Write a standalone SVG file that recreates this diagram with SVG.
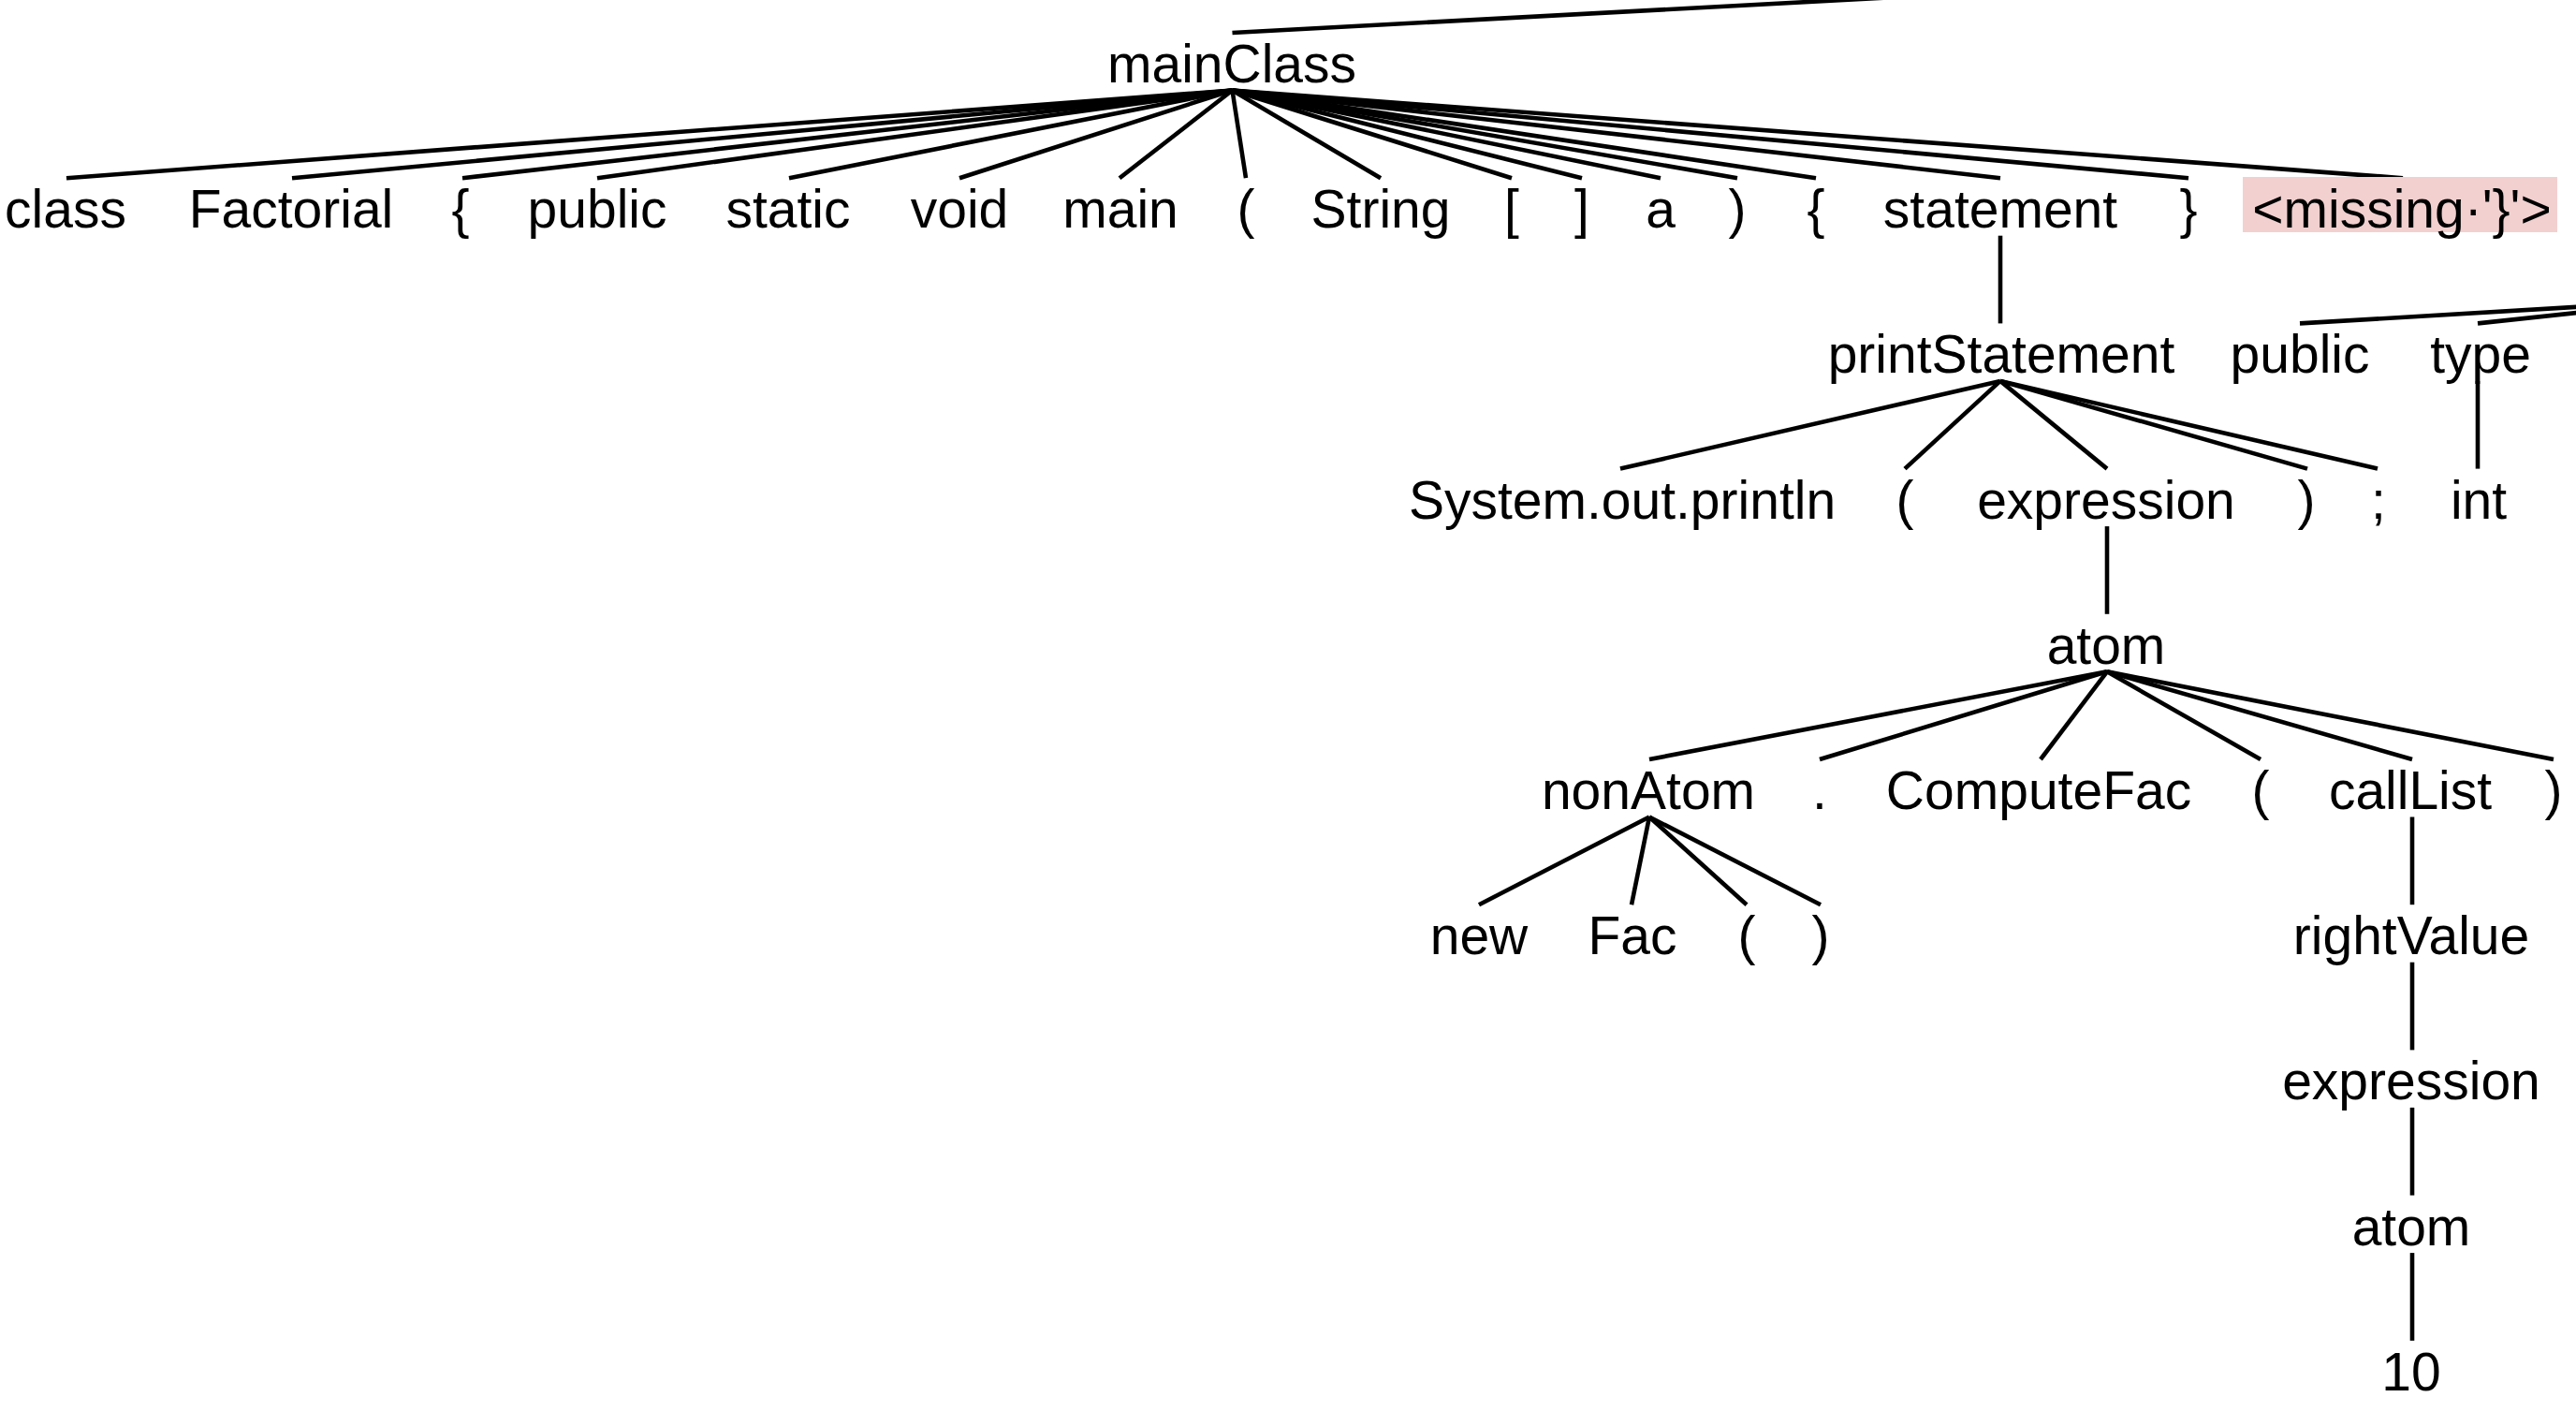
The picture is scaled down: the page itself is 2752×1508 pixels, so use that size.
<svg xmlns="http://www.w3.org/2000/svg" width="2752" height="1508" viewBox="0 0 2752 1508">
<style>
text{font-family:"Liberation Sans",Arial,Helvetica,sans-serif;font-size:57px;fill:#000;text-anchor:middle}
.e line{stroke:#000;stroke-width:4.6;stroke-linecap:butt}
.err{fill:#f2d0d0}
</style>
<rect width="2752" height="1508" fill="#fff"/>
<g id="connectors" class="e">
<line x1="1316.5" y1="35" x2="2100" y2="-7"/>
<line x1="1316.5" y1="96.5" x2="71" y2="190.2"/>
<line x1="1316.5" y1="96.5" x2="312" y2="190.2"/>
<line x1="1316.5" y1="96.5" x2="494" y2="190.2"/>
<line x1="1316.5" y1="96.5" x2="638" y2="190.2"/>
<line x1="1316.5" y1="96.5" x2="843" y2="190.2"/>
<line x1="1316.5" y1="96.5" x2="1025" y2="190.2"/>
<line x1="1316.5" y1="96.5" x2="1196" y2="190.2"/>
<line x1="1316.5" y1="96.5" x2="1331" y2="190.2"/>
<line x1="1316.5" y1="96.5" x2="1475" y2="190.2"/>
<line x1="1316.5" y1="96.5" x2="1615" y2="190.2"/>
<line x1="1316.5" y1="96.5" x2="1690" y2="190.2"/>
<line x1="1316.5" y1="96.5" x2="1774" y2="190.2"/>
<line x1="1316.5" y1="96.5" x2="1856" y2="190.2"/>
<line x1="1316.5" y1="96.5" x2="1940" y2="190.2"/>
<line x1="1316.5" y1="96.5" x2="2137" y2="190.2"/>
<line x1="1316.5" y1="96.5" x2="2338" y2="190.2"/>
<line x1="1316.5" y1="96.5" x2="2567" y2="190.2"/>
<line x1="2137" y1="251.7" x2="2137" y2="345.4"/>
<line x1="2137" y1="406.9" x2="1731" y2="500.6"/>
<line x1="2137" y1="406.9" x2="2035" y2="500.6"/>
<line x1="2137" y1="406.9" x2="2251" y2="500.6"/>
<line x1="2137" y1="406.9" x2="2465" y2="500.6"/>
<line x1="2137" y1="406.9" x2="2540" y2="500.6"/>
<line x1="2457" y1="345.4" x2="2800" y2="325"/>
<line x1="2647" y1="345.4" x2="2800" y2="329"/>
<line x1="2647" y1="406.9" x2="2647" y2="500.6"/>
<line x1="2251" y1="562.1" x2="2251" y2="655.8"/>
<line x1="2251" y1="717.3" x2="1762" y2="811"/>
<line x1="2251" y1="717.3" x2="1944" y2="811"/>
<line x1="2251" y1="717.3" x2="2180" y2="811"/>
<line x1="2251" y1="717.3" x2="2415" y2="811"/>
<line x1="2251" y1="717.3" x2="2577" y2="811"/>
<line x1="2251" y1="717.3" x2="2728" y2="811"/>
<line x1="1762" y1="872.5" x2="1580" y2="966.2"/>
<line x1="1762" y1="872.5" x2="1743" y2="966.2"/>
<line x1="1762" y1="872.5" x2="1866" y2="966.2"/>
<line x1="1762" y1="872.5" x2="1945" y2="966.2"/>
<line x1="2577" y1="872.5" x2="2577" y2="966.2"/>
<line x1="2577" y1="1027.7" x2="2577" y2="1121.4"/>
<line x1="2577" y1="1182.9" x2="2577" y2="1276.6"/>
<line x1="2577" y1="1338.1" x2="2577" y2="1431.8"/>
</g>
<g id="n-mainClass"><text x="1316" y="88">mainClass</text></g>
<g id="n-class"><text x="70" y="243.2">class</text></g>
<g id="n-Factorial"><text x="311" y="243.2">Factorial</text></g>
<g id="n-lbrace1"><text x="492" y="243.2">{</text></g>
<g id="n-public1"><text x="638" y="243.2">public</text></g>
<g id="n-static"><text x="842" y="243.2">static</text></g>
<g id="n-void"><text x="1025" y="243.2">void</text></g>
<g id="n-main"><text x="1197" y="243.2">main</text></g>
<g id="n-lparen1"><text x="1331" y="243.2">(</text></g>
<g id="n-String"><text x="1475" y="243.2">String</text></g>
<g id="n-lbrack"><text x="1615" y="243.2">[</text></g>
<g id="n-rbrack"><text x="1690" y="243.2">]</text></g>
<g id="n-a"><text x="1774" y="243.2">a</text></g>
<g id="n-rparen1"><text x="1856" y="243.2">)</text></g>
<g id="n-lbrace2"><text x="1940" y="243.2">{</text></g>
<g id="n-statement"><text x="2137" y="243.2">statement</text></g>
<g id="n-rbrace"><text x="2338" y="243.2">}</text></g>
<g id="n-missing"><rect class="err" x="2396" y="189" width="336" height="59"/><text x="2566" y="243.2">&lt;missing·'}'&gt;</text></g>
<g id="n-printStatement"><text x="2138" y="398.4">printStatement</text></g>
<g id="n-public2"><text x="2457" y="398.4">public</text></g>
<g id="n-type"><text x="2650" y="398.4">type</text></g>
<g id="n-println"><text x="1733" y="553.6">System.out.println</text></g>
<g id="n-lparen2"><text x="2035" y="553.6">(</text></g>
<g id="n-expression1"><text x="2250" y="553.6">expression</text></g>
<g id="n-rparen2"><text x="2464" y="553.6">)</text></g>
<g id="n-semi"><text x="2541" y="553.6">;</text></g>
<g id="n-int"><text x="2648" y="553.6">int</text></g>
<g id="n-atom1"><text x="2250" y="708.8">atom</text></g>
<g id="n-nonAtom"><text x="1761" y="864">nonAtom</text></g>
<g id="n-dot"><text x="1944" y="864">.</text></g>
<g id="n-ComputeFac"><text x="2178" y="864">ComputeFac</text></g>
<g id="n-lparen3"><text x="2415" y="864">(</text></g>
<g id="n-callList"><text x="2575" y="864">callList</text></g>
<g id="n-rparen3"><text x="2728" y="864">)</text></g>
<g id="n-new"><text x="1580" y="1019.2">new</text></g>
<g id="n-Fac"><text x="1744" y="1019.2">Fac</text></g>
<g id="n-lparen4"><text x="1866" y="1019.2">(</text></g>
<g id="n-rparen4"><text x="1945" y="1019.2">)</text></g>
<g id="n-rightValue"><text x="2576" y="1019.2">rightValue</text></g>
<g id="n-expression2"><text x="2576" y="1174.4">expression</text></g>
<g id="n-atom2"><text x="2576" y="1329.6">atom</text></g>
<g id="n-10"><text x="2576" y="1484.8">10</text></g>
</svg>
